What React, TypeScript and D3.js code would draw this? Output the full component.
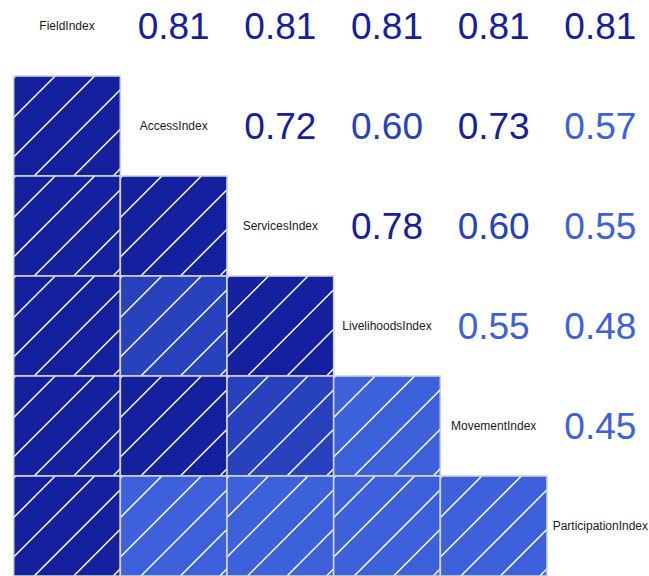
import React from "react";
import * as d3 from "d3";

const variables = [
  "FieldIndex",
  "AccessIndex",
  "ServicesIndex",
  "LivelihoodsIndex",
  "MovementIndex",
  "ParticipationIndex",
];

// lower-triangle correlations: row i vs columns 0..i-1
const fieldRow: number[] = [];
const accessRow = [0.81];
const servicesRow = [0.81, 0.72];
const livelihoodsRow = [0.81, 0.6, 0.78];
const movementRow = [0.81, 0.73, 0.6, 0.55];
const participationRow = [0.81, 0.57, 0.55, 0.48, 0.45];

const lowerRows = [fieldRow, accessRow, servicesRow, livelihoodsRow, movementRow, participationRow];

const rampColors = ["red", "salmon", "white", "royalblue", "navy"];

const W = 649;
const H = 576;

export default function App() {
  const n = variables.length;
  const idx = d3.range(n);
  const x = d3.scaleBand<number>().domain(idx).range([13.67, 13.67 + 640]);
  const y = d3.scaleBand<number>().domain(idx).range([-24, 576]);
  const interp = d3.piecewise(d3.interpolateRgb, rampColors);
  const palette = d3.range(14).map((k) => d3.rgb(interp(k / 13)).formatHex());
  const color = d3.scaleQuantize<string>().domain([-1, 1]).range(palette);
  const fmt = d3.format(".2f");

  const corr = (i: number, j: number) => (i > j ? lowerRows[i][j] : lowerRows[j][i]);

  const cw = x.bandwidth();
  const ch = y.bandwidth();
  const hatchOffsets = d3.range(2, cw + ch, 39.5);

  const cells: React.ReactNode[] = [];
  const texts: React.ReactNode[] = [];

  for (let i = 0; i < n; i++) {
    for (let j = 0; j < n; j++) {
      const x0 = x(j)!;
      const y0 = y(i)!;
      const cx = x0 + cw / 2;
      const cy = y0 + ch / 2;
      if (i === j) {
        texts.push(
          <text
            key={`d${i}`}
            x={cx}
            y={cy + 4.3}
            textAnchor="middle"
            fontSize={12}
            fill="#1a1a1a"
          >
            {variables[i]}
          </text>
        );
      } else if (i > j) {
        const r = corr(i, j);
        const lines = hatchOffsets.map((c, k) => {
          const u1 = Math.max(0, c - ch);
          const u2 = Math.min(cw, c);
          return (
            <line
              key={k}
              x1={x0 + u1}
              y1={y0 + (c - u1)}
              x2={x0 + u2}
              y2={y0 + (c - u2)}
              stroke="white"
              strokeWidth={1.5}
            />
          );
        });
        cells.push(
          <g key={`c${i}-${j}`}>
            <rect x={x0} y={y0} width={cw} height={ch} fill={color(r)} />
            {lines}
            <rect
              x={x0}
              y={y0}
              width={cw}
              height={ch}
              fill="none"
              stroke="#d3d3d3"
              strokeWidth={1.6}
            />
          </g>
        );
      } else {
        const r = corr(i, j);
        texts.push(
          <text
            key={`t${i}-${j}`}
            x={cx}
            y={cy + 13.3}
            textAnchor="middle"
            fontSize={37}
            fill={color(r)}
          >
            {fmt(r)}
          </text>
        );
      }
    }
  }

  return (
    <svg
      width={W}
      height={H}
      style={{ position: "absolute", left: 0, top: 0, display: "block", background: "white" }}
      fontFamily="'Liberation Sans', Arial, sans-serif"
    >
      <rect width={W} height={H} fill="white" />
      {cells}
      {texts}
    </svg>
  );
}
